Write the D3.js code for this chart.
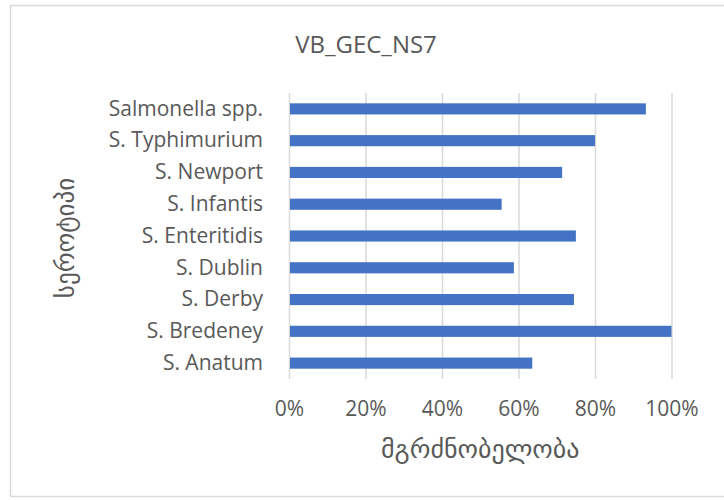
<!DOCTYPE html>
<html>
<head>
<meta charset="utf-8">
<script src="https://cdn.jsdelivr.net/npm/d3@7"></script>
<style>
  body { margin: 0; background: #fff; overflow: hidden; }
  text { font-family: 'Open Sans', 'DejaVu Sans', sans-serif; fill: #595959; }
  .geo { font-family: 'DejaVu Sans', sans-serif; }
</style>
</head>
<body>
<div id="chart"></div>
<script>
const categories = ['Salmonella spp.', 'S. Typhimurium', 'S. Newport', 'S. Infantis', 'S. Enteritidis', 'S. Dublin', 'S. Derby', 'S. Bredeney', 'S. Anatum']
const values = [0.933, 0.80, 0.714, 0.556, 0.75, 0.588, 0.745, 1.0, 0.636]
const xTicks = [0, 0.2, 0.4, 0.6, 0.8, 1.0]

width = 724
height = 500
const plot = { left: 289, right: 671.5, top: 93, bottom: 379 }

const svg = d3.select('#chart')
    .append('svg')
    .attr('width', width)
    .attr('height', height)
    .style('display', 'block')

// chart border (right edge runs off the picture)
svg.append('rect')
    .attr('x', 10.5)
    .attr('y', 5.5)
    .attr('width', width + 20)
    .attr('height', 491)
    .attr('fill', 'white')
    .attr('stroke', '#d9d9d9')
    .attr('stroke-width', 1.5)

// Scales
const xScale = d3.scaleLinear()
    .domain([0, 1])
    .range([plot.left, plot.right])

const yScale = d3.scaleBand()
    .domain(categories)
    .range([plot.top, plot.bottom])
    .paddingInner(0.65)
    .paddingOuter(0.325)

// Gridlines
const grid = svg.append('g')
    .attr('transform', 'translate(0,' + plot.bottom + ')')
    .call(d3.axisBottom(xScale).tickValues(xTicks).tickSize(-(plot.bottom - plot.top)).tickFormat(''))
grid.select('.domain').remove()
grid.selectAll('line').attr('stroke', '#d9d9d9').attr('stroke-width', 1.5)

// Bars
svg.selectAll('.bar')
    .data(categories)
    .enter()
    .append('rect')
    .attr('class', 'bar')
    .attr('x', xScale(0) + 1)
    .attr('y', d => yScale(d))
    .attr('width', (d, i) => xScale(values[i]) - xScale(0) - 1)
    .attr('height', yScale.bandwidth())
    .attr('fill', '#4472c4')

// X axis labels
const xAxis = svg.append('g')
    .attr('transform', 'translate(0,' + plot.bottom + ')')
    .call(d3.axisBottom(xScale).tickValues(xTicks).tickFormat(d3.format('.0%')).tickSize(0).tickPadding(22))
xAxis.select('.domain').remove()
xAxis.selectAll('text').attr('font-size', 21)

// Y axis labels
const yAxis = svg.append('g')
    .attr('transform', 'translate(' + plot.left + ',0)')
    .call(d3.axisLeft(yScale).tickSize(0).tickPadding(26))
yAxis.select('.domain').remove()
yAxis.selectAll('text').attr('font-size', 21)
svg.selectAll('.tick text').attr('font-family', null)

// Title
svg.append('text')
    .attr('x', 366)
    .attr('y', 53)
    .attr('text-anchor', 'middle')
    .attr('font-size', 24)
    .text('VB_GEC_NS7')

// Axis titles
svg.append('text')
    .attr('class', 'geo')
    .attr('x', (plot.left + plot.right) / 2)
    .attr('y', 458)
    .attr('text-anchor', 'middle')
    .attr('font-size', 26)
    .text('მგრძნობელობა')

svg.append('text')
    .attr('class', 'geo')
    .attr('transform', 'translate(74,238) rotate(-90)')
    .attr('text-anchor', 'middle')
    .attr('font-size', 25)
    .text('სეროტიპი')
</script>
</body>
</html>
